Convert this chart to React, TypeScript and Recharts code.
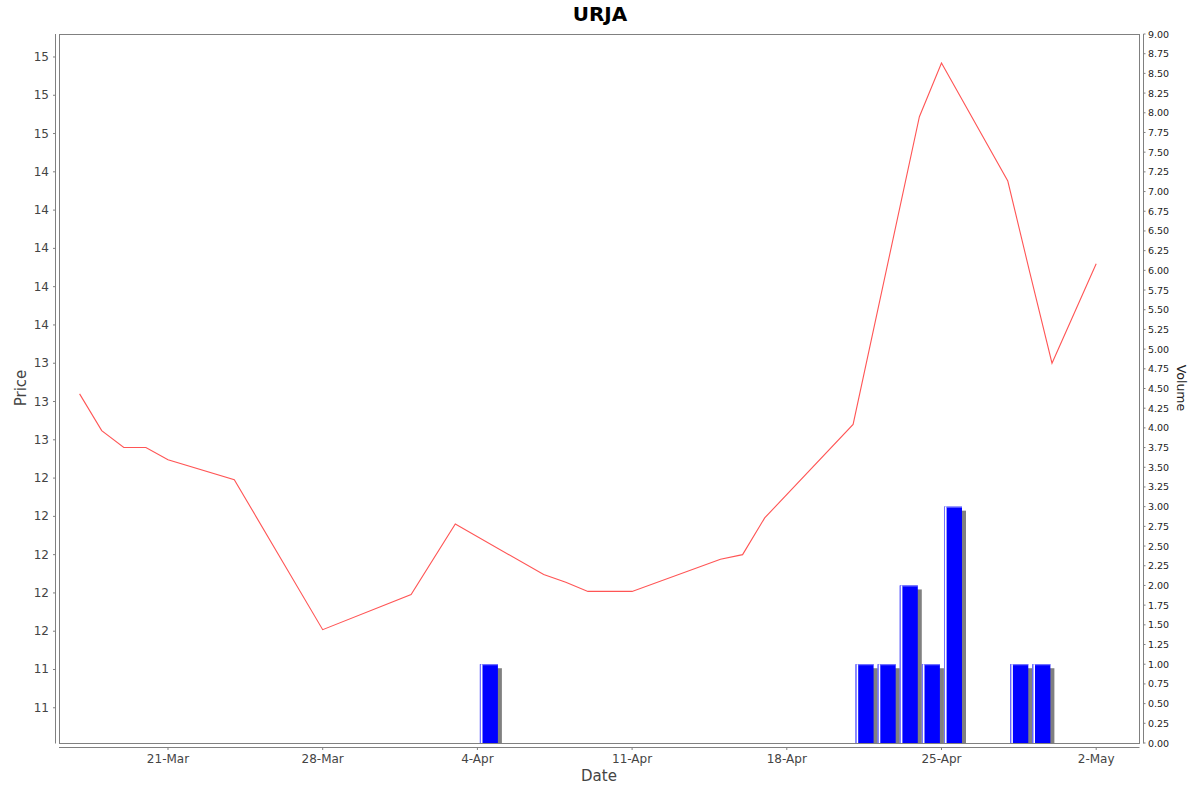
import React from 'react';
import { ComposedChart, Line, Bar, XAxis, YAxis, Customized } from 'recharts';

// ---------- data ----------
const priceDates = [
  '2025-03-17', '2025-03-18', '2025-03-19', '2025-03-20', '2025-03-21', '2025-03-24',
  '2025-03-28', '2025-04-01', '2025-04-03', '2025-04-07', '2025-04-08', '2025-04-09',
  '2025-04-11', '2025-04-15', '2025-04-16', '2025-04-17', '2025-04-21', '2025-04-24',
  '2025-04-25', '2025-04-28', '2025-04-29', '2025-04-30', '2025-05-02',
];
const priceValues = [
  13.05, 12.81, 12.70, 12.70, 12.62, 12.49,
  11.51, 11.74, 12.20, 11.87, 11.82, 11.76,
  11.76, 11.97, 12.00, 12.24, 12.85, 14.86,
  15.21, 14.44, 13.84, 13.25, 13.90,
];

const volumeDates = [
  '2025-04-04', '2025-04-21', '2025-04-22', '2025-04-23', '2025-04-24',
  '2025-04-25', '2025-04-28', '2025-04-29',
];
const volumeValues = [1, 1, 1, 2, 1, 3, 1, 1];

const xTickDates = ['2025-03-21', '2025-03-28', '2025-04-04', '2025-04-11', '2025-04-18', '2025-04-25', '2025-05-02'];
const priceTicks = [11.0, 11.25, 11.5, 11.75, 12.0, 12.25, 12.5, 12.75, 13.0, 13.25, 13.5, 13.75, 14.0, 14.25, 14.5, 14.75, 15.0, 15.25];
const volumeTicks = [
  0, 0.25, 0.5, 0.75, 1, 1.25, 1.5, 1.75, 2, 2.25, 2.5, 2.75, 3, 3.25, 3.5, 3.75, 4, 4.25, 4.5,
  4.75, 5, 5.25, 5.5, 5.75, 6, 6.25, 6.5, 6.75, 7, 7.25, 7.5, 7.75, 8, 8.25, 8.5, 8.75, 9,
];
const monthNames = ['Jan', 'Feb', 'Mar', 'Apr', 'May', 'Jun', 'Jul', 'Aug', 'Sep', 'Oct', 'Nov', 'Dec'];

const priceDomain = [10.77, 15.4];
const volumeDomain = [0, 9];
const xDomainStart = '2025-03-16';
const xDomainEnd = '2025-05-03';

// ---------- helpers ----------
const DAY = 86400000;
const ts = (s: string) => Date.parse(s + 'T00:00:00Z');
const X_MIN = ts(xDomainStart) + 0.068 * DAY;
const X_MAX = ts(xDomainEnd) + 0.937 * DAY;

const rows = [
  ...priceDates.map((s, i) => ({ t: ts(s), price: priceValues[i] })),
  // volume bars cover the whole trading day: plotted at the middle of the day
  ...volumeDates.map((s, i) => ({ t: ts(s) + DAY / 2, volume: volumeValues[i] })),
].sort((a, b) => a.t - b.t);

const xTicks = xTickDates.map(ts);

const fmtDate = (v: number) => {
  const d = new Date(v);
  return `${d.getUTCDate()}-${monthNames[d.getUTCMonth()]}`;
};
// half-even rounding to integer (as in the original axis labels)
const fmtPrice = (v: number) => {
  const r = Math.floor(v + 1e-9);
  const f = v - r;
  if (Math.abs(f - 0.5) < 1e-9) return String(r % 2 === 0 ? r : r + 1);
  return String(Math.round(v));
};

// ---------- layout ----------
const W = 1200;
const H = 792;
const LEFT_W = 59;
const RIGHT_W = 61;
const TOP = 34;
const X_H = 49;
const PL = LEFT_W;
const PR = W - RIGHT_W;
const PT = TOP;
const PB = H - X_H;
const FONT = 'DejaVu Sans, Verdana, sans-serif';
const AXIS = '#808080';
const TXT = '#444444';

const PriceTick = (props: any) => {
  const { x, y, payload } = props;
  return (
    <g>
      <line x1={x - 6} x2={x - 3.5} y1={y} y2={y} stroke={AXIS} strokeWidth={1} />
      <text x={x - 10} y={y} dy={4} textAnchor="end" fontSize={12} fill={TXT} fontFamily={FONT}>
        {fmtPrice(payload.value)}
      </text>
    </g>
  );
};

const VolumeTick = (props: any) => {
  const { x, y, payload } = props;
  return (
    <g>
      <line x1={x + 4.5} x2={x + 6.5} y1={y} y2={y} stroke={AXIS} strokeWidth={1} />
      <text x={x + 9} y={y} dy={3.5} textAnchor="start" fontSize={9.5} fill="#222" fontFamily={FONT}>
        {Number(payload.value).toFixed(2)}
      </text>
    </g>
  );
};

const DateTick = (props: any) => {
  const { x, y, payload } = props;
  return (
    <g>
      <line x1={x} x2={x} y1={y + 4.5} y2={y + 7} stroke={AXIS} strokeWidth={1} />
      <text x={x} y={y + 20} textAnchor="middle" fontSize={12} fill={TXT} fontFamily={FONT}>
        {fmtDate(payload.value)}
      </text>
    </g>
  );
};

const VolumeBar = (props: any) => {
  const { x, y, width, height } = props;
  if (!height || height <= 0 || !isFinite(y) || !isFinite(x)) return null;
  const w = 18;
  const x0 = x + width / 2 - w / 2;
  return (
    <g>
      <rect x={x0 + 4} y={y + 4} width={w} height={Math.max(0, height - 4)} fill="#808080" />
      <rect x={x0} y={y} width={w} height={height} fill="#0000ff" />
      <rect x={x0} y={y} width={1} height={height} fill="#7070ff" />
      <rect x={x0 + 1} y={y} width={1.6} height={height} fill="#ffffff" />
      <rect x={x0 + 2.6} y={y} width={w - 2.6} height={1} fill="#8080ff" />
    </g>
  );
};

const Frame = () => (
  <g>
    <rect x={PL + 0.5} y={PT + 0.5} width={PR - PL} height={PB - PT} fill="none" stroke={AXIS} strokeWidth={1} />
    <line x1={PL - 3.5} x2={PL - 3.5} y1={PT} y2={PB + 0.5} stroke={AXIS} strokeWidth={1} />
    <line x1={PR + 4.5} x2={PR + 4.5} y1={PT} y2={PB + 0.5} stroke={AXIS} strokeWidth={1} />
    <line x1={PL} x2={PR + 0.5} y1={PB + 4.5} y2={PB + 4.5} stroke={AXIS} strokeWidth={1} />
    <text x={600} y={21} textAnchor="middle" fontSize={20} fontWeight="bold" fill="#000" fontFamily={FONT}>
      URJA
    </text>
    <text x={599} y={781} textAnchor="middle" fontSize={15} fill={TXT} fontFamily={FONT}>
      Date
    </text>
    <text transform="translate(26,388) rotate(-90)" textAnchor="middle" fontSize={15} fill={TXT} fontFamily={FONT}>
      Price
    </text>
    <text transform="translate(1176.5,388) rotate(90)" textAnchor="middle" fontSize={12.5} fill="#222" fontFamily={FONT}>
      Volume
    </text>
  </g>
);

export default function App() {
  return (
    <div style={{ position: 'absolute', left: 0, top: 0, width: W, height: H, background: '#fff' }}>
      <ComposedChart width={W} height={H} data={rows} margin={{ top: TOP, right: 0, bottom: 0, left: 0 }}>
        <XAxis
          dataKey="t"
          type="number"
          domain={[X_MIN, X_MAX]}
          allowDataOverflow
          ticks={xTicks}
          interval={0}
          height={X_H}
          axisLine={false}
          tickLine={false}
          tickSize={0}
          tickMargin={0}
          tick={<DateTick />}
        />
        <YAxis
          yAxisId="price"
          orientation="left"
          type="number"
          width={LEFT_W}
          domain={priceDomain}
          allowDataOverflow
          ticks={priceTicks}
          interval={0}
          axisLine={false}
          tickLine={false}
          tickSize={0}
          tickMargin={0}
          tick={<PriceTick />}
        />
        <YAxis
          yAxisId="vol"
          orientation="right"
          type="number"
          width={RIGHT_W}
          domain={volumeDomain}
          allowDataOverflow
          ticks={volumeTicks}
          interval={0}
          axisLine={false}
          tickLine={false}
          tickSize={0}
          tickMargin={0}
          tick={<VolumeTick />}
        />
        <Customized component={<Frame />} />
        <Bar
          yAxisId="vol"
          dataKey="volume"
          barSize={18}
          shape={<VolumeBar />}
          isAnimationActive={false}
        />
        <Line
          yAxisId="price"
          dataKey="price"
          type="linear"
          stroke="#ff5555"
          strokeWidth={1.1}
          dot={false}
          activeDot={false}
          connectNulls
          isAnimationActive={false}
        />
      </ComposedChart>
    </div>
  );
}
